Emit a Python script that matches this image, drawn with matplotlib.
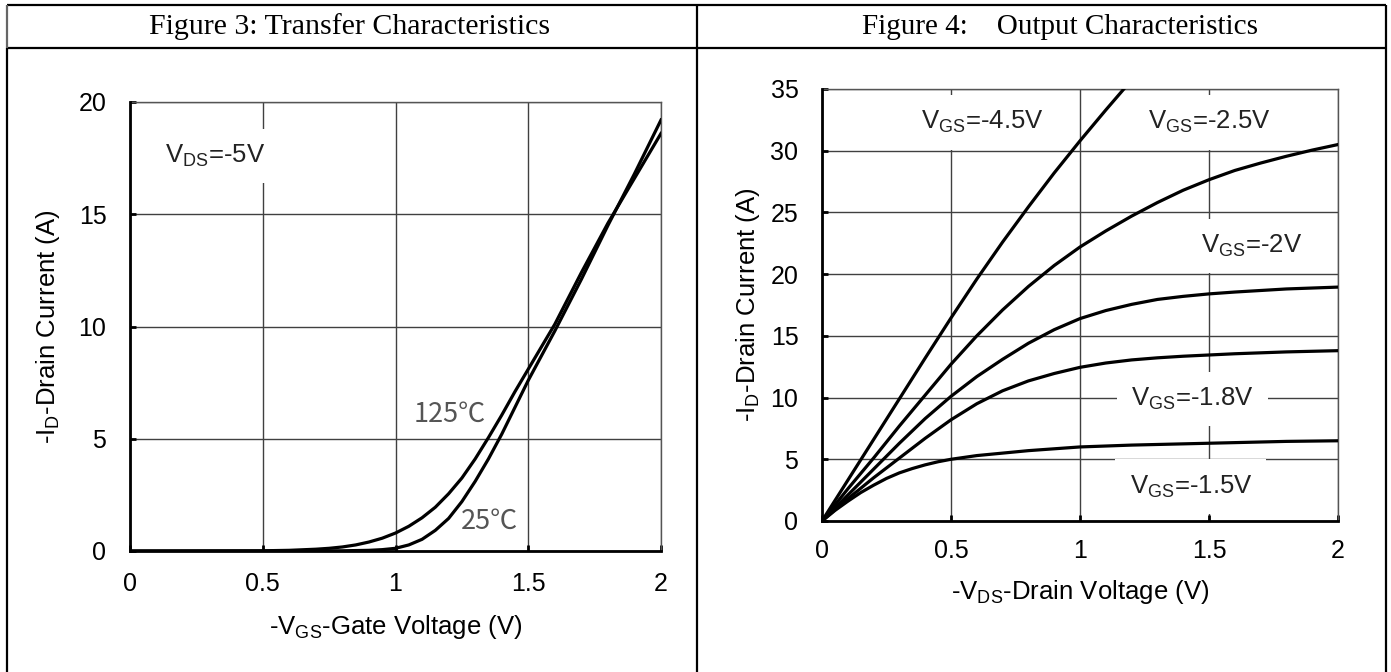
import numpy as np
import matplotlib.pyplot as plt
from matplotlib.lines import Line2D

# -----------------------------------------------------------------------------
# 字体设置 (Arial -> Liberation Sans, Times -> Liberation Serif)
# -----------------------------------------------------------------------------
plt.rcParams['font.family'] = ['Liberation Sans', 'DejaVu Sans']
plt.rcParams['mathtext.fontset'] = 'custom'
plt.rcParams['mathtext.rm'] = 'Liberation Sans'
plt.rcParams['mathtext.it'] = 'Liberation Sans:italic'
plt.rcParams['mathtext.bf'] = 'Liberation Sans:bold'

# -----------------------------------------------------------------------------
# 数据
# -----------------------------------------------------------------------------
# Figure 3: Transfer Characteristics
vgs_25 = [0, 0.5, 0.8, 0.9, 0.95, 1.0, 1.05, 1.1, 1.15, 1.2, 1.25, 1.3, 1.35, 1.4,
          1.45, 1.5, 1.6, 1.7, 1.8, 1.9, 2.0]
id_25 = [0, 0, 0.01, 0.03, 0.06, 0.12, 0.27, 0.52, 0.92, 1.45, 2.2, 3.1, 4.1, 5.2,
         6.4, 7.6, 9.8, 12.1, 14.5, 16.8, 19.2]

vgs_125 = [0, 0.5, 0.6, 0.7, 0.75, 0.8, 0.85, 0.9, 0.95, 1.0, 1.05, 1.1, 1.15, 1.2,
           1.25, 1.3, 1.35, 1.4, 1.45, 1.5, 1.6, 1.7, 1.8, 1.9, 2.0]
id_125 = [0, 0.01, 0.03, 0.08, 0.12, 0.18, 0.27, 0.4, 0.57, 0.8, 1.1, 1.48, 1.95,
          2.55, 3.25, 4.1, 5.05, 6.05, 7.1, 8.1, 10.1, 12.4, 14.6, 16.6, 18.6]

# Figure 4: Output Characteristics
vds_45 = [0, 0.1, 0.2, 0.3, 0.4, 0.5, 0.6, 0.7, 0.8, 0.9, 1.0, 1.1, 1.17]
id_45 = [0, 3.3, 6.6, 9.9, 13.2, 16.45, 19.6, 22.6, 25.45, 28.2, 30.8, 33.3, 35.0]

vds_25 = [0, 0.1, 0.2, 0.3, 0.4, 0.5, 0.6, 0.7, 0.8, 0.9, 1.0, 1.1, 1.2, 1.3, 1.4,
          1.5, 1.6, 1.7, 1.8, 1.9, 2.0]
id_25v = [0, 2.6, 5.1, 7.7, 10.2, 12.7, 15.0, 17.1, 19.0, 20.7, 22.2, 23.5, 24.7,
          25.8, 26.8, 27.65, 28.4, 29.0, 29.55, 30.05, 30.5]

vds_20 = [0, 0.1, 0.2, 0.3, 0.4, 0.5, 0.6, 0.7, 0.8, 0.9, 1.0, 1.1, 1.2, 1.3, 1.4,
          1.5, 1.6, 1.8, 2.0]
id_20 = [0, 2.1, 4.2, 6.3, 8.3, 10.1, 11.7, 13.1, 14.4, 15.5, 16.4, 17.05, 17.55,
         17.95, 18.2, 18.4, 18.55, 18.8, 18.95]

vds_18 = [0, 0.1, 0.2, 0.3, 0.4, 0.5, 0.6, 0.7, 0.8, 0.9, 1.0, 1.1, 1.2, 1.3, 1.4,
          1.6, 1.8, 2.0]
id_18 = [0, 1.8, 3.5, 5.1, 6.7, 8.2, 9.5, 10.55, 11.35, 11.95, 12.45, 12.8, 13.05,
         13.22, 13.35, 13.55, 13.7, 13.8]

vds_15 = [0, 0.05, 0.1, 0.15, 0.2, 0.25, 0.3, 0.35, 0.4, 0.45, 0.5, 0.6, 0.7, 0.8,
          0.9, 1.0, 1.2, 1.4, 1.6, 1.8, 2.0]
id_15 = [0, 0.85, 1.6, 2.3, 2.9, 3.45, 3.9, 4.25, 4.55, 4.8, 5.0, 5.3, 5.5, 5.7,
         5.85, 6.0, 6.15, 6.25, 6.35, 6.45, 6.5]

x_ticks = [0, 0.5, 1, 1.5, 2]
x_tick_labels = ['0', '0.5', '1', '1.5', '2']
y_ticks_transfer = [0, 5, 10, 15, 20]
y_ticks_output = [0, 5, 10, 15, 20, 25, 30, 35]

title_left = 'Figure 3: Transfer Characteristics'
title_right = 'Figure 4:    Output Characteristics'

# -----------------------------------------------------------------------------
# 画布 (1391 x 672 px)
# -----------------------------------------------------------------------------
W, H = 1391, 672
fig = plt.figure(figsize=(W / 100, H / 100), dpi=100)


def fx(px):
    return px / W


def fy(py):
    return 1 - py / H


def table_line(x0, y0, x1, y1, color='black'):
    fig.add_artist(Line2D([fx(x0), fx(x1)], [fy(y0), fy(y1)], color=color,
                          lw=1.6, transform=fig.transFigure, solid_capstyle='butt'))


# 表格框线
table_line(7, 5, 1386, 5)
table_line(7, 47.5, 1386, 47.5)
table_line(7, 5, 7, 47.5, color='#666666')
table_line(7, 47.5, 7, 672)
table_line(697, 5, 697, 672)
table_line(1386, 5, 1386, 672)

fig.text(fx(350), fy(27), title_left, ha='center', va='center',
         family=['Liberation Serif', 'DejaVu Serif'], fontsize=21.5)
fig.text(fx(1060), fy(27), title_right, ha='center', va='center',
         family=['Liberation Serif', 'DejaVu Serif'], fontsize=21)


# -----------------------------------------------------------------------------
# 坐标轴样式
# -----------------------------------------------------------------------------
def style_axes(ax, yticks, ymax, xpad):
    ax.set_xlim(0, 2)
    ax.set_ylim(0, ymax)
    ax.set_xticks(x_ticks)
    ax.set_xticklabels(x_tick_labels)
    ax.set_yticks(yticks)
    ax.grid(True, color='#404040', lw=1.0)
    ax.set_axisbelow(True)
    for side in ['left', 'bottom']:
        ax.spines[side].set_linewidth(2.0)
        ax.spines[side].set_color('black')
        ax.spines[side].set_zorder(5)
    for side in ['top', 'right']:
        ax.spines[side].set_linewidth(1.0)
        ax.spines[side].set_color('#555555')
    ax.tick_params(direction='in', length=4, width=2.0, labelsize=18, colors='black')
    ax.tick_params(axis='x', pad=xpad)
    ax.tick_params(axis='y', pad=17)


box = dict(boxstyle='square,pad=0.55', facecolor='white', edgecolor='none')

# --- Figure 3 ---
ax1 = fig.add_axes([fx(130), fy(551), fx(661) - fx(130), fy(102) - fy(551)])
style_axes(ax1, y_ticks_transfer, 20, 15)
ax1.plot(vgs_125, id_125, color='black', lw=2.3, zorder=4)
ax1.plot(vgs_25, id_25, color='black', lw=2.3, zorder=4)
ax1.set_xlabel(r'-V$_\mathrm{GS}$-Gate Voltage (V)', fontsize=18.5, va='center')
ax1.xaxis.set_label_coords(0.5, -0.169)
ax1.set_ylabel(r'-I$_\mathrm{D}$-Drain Current (A)', fontsize=18.5, va='center')
ax1.yaxis.set_label_coords(-0.154, 0.5)
ax1.text(0.32, 17.6, r'V$_\mathrm{DS}$=-5V', fontsize=18.5, ha='center', va='center',
         color='#222222', bbox=box, zorder=3)
ax1.text(1.205, 6.1, '125℃', fontsize=19.5, ha='center', va='center', color='#555555',
         family=['Noto Sans CJK SC', 'DejaVu Sans'], fontweight='light', zorder=3)
ax1.text(1.354, 1.3, '25℃', fontsize=19.5, ha='center', va='center', color='#555555',
         family=['Noto Sans CJK SC', 'DejaVu Sans'], fontweight='light', zorder=3)

# --- Figure 4 ---
ax2 = fig.add_axes([fx(822), fy(521), fx(1338) - fx(822), fy(89) - fy(521)])
style_axes(ax2, y_ticks_output, 35, 13)
for xs, ys in [(vds_45, id_45), (vds_25, id_25v), (vds_20, id_20),
               (vds_18, id_18), (vds_15, id_15)]:
    ax2.plot(xs, ys, color='black', lw=2.3, zorder=4, solid_joinstyle='round')
ax2.set_xlabel(r'-V$_\mathrm{DS}$-Drain Voltage (V)', fontsize=18.5, va='center')
ax2.xaxis.set_label_coords(0.5, -0.164)
ax2.set_ylabel(r'-I$_\mathrm{D}$-Drain Current (A)', fontsize=18.5, va='center')
ax2.yaxis.set_label_coords(-0.143, 0.5)

labels_out = [
    (0.62, 32.3, r'V$_\mathrm{GS}$=-4.5V'),
    (1.50, 32.3, r'V$_\mathrm{GS}$=-2.5V'),
    (1.665, 22.3, r'V$_\mathrm{GS}$=-2V'),
    (1.435, 9.9, r'V$_\mathrm{GS}$=-1.8V'),
    (1.43, 2.8, r'V$_\mathrm{GS}$=-1.5V'),
]
for lx, ly, txt in labels_out:
    ax2.text(lx, ly, txt, fontsize=18.5, ha='center', va='center', color='#222222',
             bbox=box, zorder=3)

fig.savefig('out.png', dpi=100, facecolor='white')
